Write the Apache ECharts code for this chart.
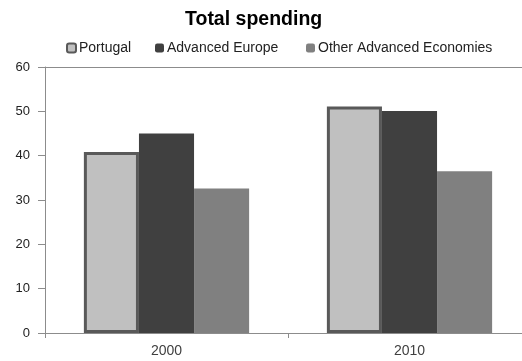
<!DOCTYPE html>
<html>
<head>
<meta charset="utf-8">
<style>
  html, body { margin: 0; padding: 0; background: #fff; }
  #chart { width: 522px; height: 361px; }
</style>
<script src="https://cdn.jsdelivr.net/npm/echarts@6/dist/echarts.min.js"></script>
</head>
<body>
<div id="chart"></div>
<script>
// Total spending, per cent of GDP
const years = ['2000', '2010'];
const seriesNames = ['Portugal', 'Advanced Europe', 'Other Advanced Economies'];
const portugal = [40.8, 51.1];
const advancedEurope = [45.0, 50.1];
const otherAdvanced = [32.6, 36.5];
const yTicks = { min: 0, max: 60, interval: 10 };

const chart = echarts.init(document.getElementById('chart'));
const font = 'Liberation Sans, Arial, sans-serif';
const axisGrey = '#8c8c8c';

// one legend block per series so each entry sits at its own position
const legendLefts = [66, 155, 306];
const legends = seriesNames.map((name, i) => ({
  left: legendLefts[i],
  top: 41,
  padding: 0,
  itemWidth: 9,
  itemHeight: 9,
  textStyle: { fontFamily: font, fontSize: 14, color: '#222', padding: [0, 0, 0, -2] },
  data: [name]
}));

chart.setOption({
  animation: false,
  title: {
    text: 'Total spending',
    left: 185,
    top: 10,
    padding: 0,
    textStyle: { fontFamily: font, fontSize: 19.5, fontWeight: 'bold', color: '#000' }
  },
  legend: legends,
  grid: {
    left: 45,
    top: 67,
    bottom: 28,
    right: -9,
    containLabel: false,
    outerBoundsMode: 'none'
  },
  xAxis: [
    {
      type: 'category',
      data: years,
      axisLine: { lineStyle: { color: axisGrey, width: 1 } },
      axisTick: { show: true, length: 5, lineStyle: { color: axisGrey } },
      axisLabel: { fontFamily: font, fontSize: 14, color: '#404040', margin: 11 }
    },
    {
      // plain rule along the top of the plot area
      type: 'category',
      data: years,
      position: 'top',
      axisLine: { show: true, lineStyle: { color: axisGrey, width: 1 } },
      axisTick: { show: false },
      axisLabel: { show: false }
    }
  ],
  yAxis: {
    type: 'value',
    min: yTicks.min,
    max: yTicks.max,
    interval: yTicks.interval,
    splitLine: { show: false },
    axisLine: { show: true, lineStyle: { color: axisGrey, width: 1 } },
    axisTick: { show: true, length: 7, lineStyle: { color: axisGrey } },
    axisLabel: { fontFamily: font, fontSize: 13, color: '#222', margin: 15 }
  },
  series: [
    {
      name: seriesNames[0],
      type: 'bar',
      data: portugal,
      barGap: '0%',
      barCategoryGap: '32%',
      itemStyle: { color: '#c0c0c0', borderColor: '#595959', borderWidth: 3 }
    },
    {
      name: seriesNames[1],
      type: 'bar',
      data: advancedEurope,
      itemStyle: { color: '#404040' }
    },
    {
      name: seriesNames[2],
      type: 'bar',
      data: otherAdvanced,
      itemStyle: { color: '#808080' }
    }
  ]
});
</script>
</body>
</html>
